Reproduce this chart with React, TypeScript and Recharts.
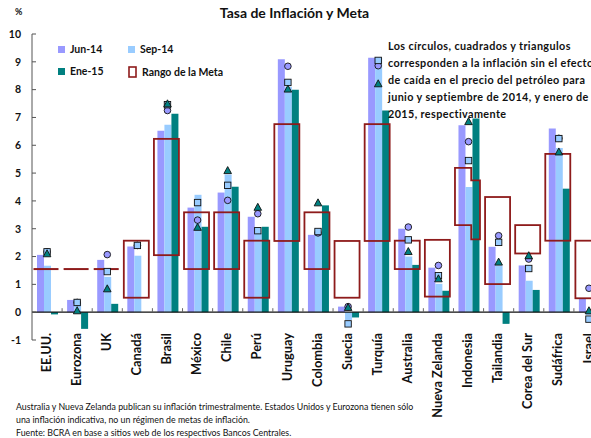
import React from 'react';
import { ComposedChart, Bar, Line, XAxis, YAxis, ReferenceLine } from 'recharts';

// values
const categories = [
  'EE.UU.', 'Eurozona', 'UK', 'Canadá', 'Brasil', 'México', 'Chile', 'Perú', 'Uruguay', 'Colombia',
  'Suecia', 'Turquía', 'Australia', 'Nueva Zelanda', 'Indonesia', 'Tailandia', 'Corea del Sur', 'Sudáfrica', 'Israel',
];
const jun14 = [2.06, 0.44, 1.88, 2.36, 6.52, 3.76, 4.3, 3.43, 9.09, 2.78, 0.2, 9.15, 3.0, 1.6, 6.72, 2.35, 1.68, 6.6, 0.48];
const sep14 = [1.67, 0.35, 1.27, 2.03, 6.74, 4.22, 4.95, 2.85, 8.1, 2.8, -0.28, 9.15, 2.0, 1.02, 4.5, 1.68, 1.13, 5.9, -0.1];
const ene15 = [-0.08, -0.6, 0.3, null, 7.13, 3.07, 4.51, 3.07, 8.0, 3.84, -0.19, 7.25, 1.7, 0.77, 6.96, -0.42, 0.8, 4.44, -0.2];

// sin efecto petróleo
const circJun = [2.17, 0.35, 2.07, 2.4, 7.25, 3.31, 4.02, 3.54, 8.84, 2.85, 0.2, 8.86, 3.06, 1.68, 6.13, 2.75, 1.91, 6.25, 0.86];
const sqSep = [2.17, 0.35, 1.46, 2.4, 7.46, 3.94, 4.56, 2.93, 8.26, 2.9, -0.42, 9.05, 2.6, 1.31, 5.45, 2.51, 1.57, 6.24, -0.25];
const triEne = [2.1, 0.05, 0.84, null, 7.49, 3.05, 5.09, 3.77, 8.02, 3.93, 0.17, 8.21, 2.18, 1.2, 6.85, 1.8, 2.03, 5.76, 0.05];

// rango de la meta
const metaLow = [1.55, 1.55, 1.55, 0.52, 2.05, 1.55, 1.55, 0.52, 2.56, 1.55, 0.52, 2.56, 1.55, 0.56, 3.13, 1.01, 2.11, 2.57, 0.5];
const metaHigh = [1.55, 1.55, 1.55, 2.57, 6.23, 3.59, 3.59, 2.57, 6.76, 3.59, 2.56, 6.76, 2.57, 2.6, 5.19, 4.14, 3.13, 5.69, 2.57];
// Indonesia cambió el rango para enero
const metaEneLow = [null, null, null, null, null, null, null, null, null, null, null, null, null, null, 2.62, null, null, null, null];
const metaEneHigh = [null, null, null, null, null, null, null, null, null, null, null, null, null, null, 4.74, null, null, null, null];

const yTicks = [-1, 0, 1, 2, 3, 4, 5, 6, 7, 8, 9, 10];

const JUN = '#9999FF';
const SEP = '#99CCFF';
const ENE = '#008080';
const META = '#8E1B1B';
const FONT = 'Lato, "Open Sans", sans-serif';

const W = 612;
const H = 438;
const margin = { top: 34, right: 8, left: 8, bottom: 0 };
const yAxisW = 24;
const xAxisH = 98;
const plotH = H - margin.top - margin.bottom - xAxisH;
const yZero = margin.top + (plotH * 10) / 11;
const band = (W - margin.left - margin.right - yAxisW) / categories.length;
const axisX = margin.left + yAxisW;

const data = categories.map((name, i) => ({
  name,
  jun14: jun14[i],
  sep14: sep14[i],
  ene15: ene15[i],
  circJun: circJun[i],
  sqSep: sqSep[i],
  triEne: triEne[i],
  meta: [metaLow[i], metaHigh[i]],
  metaEne: metaEneLow[i] != null ? [metaEneLow[i], metaEneHigh[i]] : null,
}));

const MetaShape = (props: any) => {
  const { x, y, width, height, payload } = props;
  const top = Math.min(y, y + height);
  const h = Math.abs(height);
  const left = x - 1.5;
  const right = x + width - 1.5;
  const [lo, hi] = payload.meta;
  if (hi - lo < 0.001) {
    return <line x1={left} x2={right} y1={top} y2={top} stroke={META} strokeWidth={2} />;
  }
  if (payload.metaEne) {
    const ppu = h / (hi - lo);
    const py = (v: number) => top + (hi - v) * ppu;
    const mid = left + (right - left) * 0.65;
    const [lo2, hi2] = payload.metaEne;
    const d = `M${left},${top}H${mid}V${py(hi2)}H${right}V${py(lo2)}H${mid}V${top + h}H${left}Z`;
    return <path d={d} fill="none" stroke={META} strokeWidth={1.8} />;
  }
  return <rect x={left} y={top} width={right - left} height={h} fill="none" stroke={META} strokeWidth={1.8} />;
};

const CircleDot = (props: any) => {
  const { cx, cy, value } = props;
  if (cx == null || cy == null || value == null) return null;
  return <circle cx={cx} cy={cy} r={3.3} fill={JUN} stroke="#111" strokeWidth={0.9} />;
};

const SquareDot = (props: any) => {
  const { cx, cy, value } = props;
  if (cx == null || cy == null || value == null) return null;
  return <rect x={cx - 3.2} y={cy - 3.2} width={6.4} height={6.4} fill={SEP} stroke="#111" strokeWidth={0.9} />;
};

const TriDot = (props: any) => {
  const { cx, cy, value } = props;
  if (cx == null || cy == null || value == null) return null;
  return (
    <path
      d={`M${cx},${cy - 4}L${cx + 3.8},${cy + 3}L${cx - 3.8},${cy + 3}Z`}
      fill={ENE}
      stroke="#111"
      strokeWidth={0.9}
    />
  );
};

const XTick = (props: any) => {
  const { x, y, payload, index } = props;
  return (
    <g>
      {index > 0 && (
        <line x1={x - band / 2} x2={x - band / 2} y1={yZero - 4} y2={yZero} stroke="#666" />
      )}
      <text
        transform={`translate(${x - 1},${y - 7}) rotate(-90)`}
        textAnchor="end"
        dy="0.36em"
        fontFamily={FONT}
        fontWeight={700}
        fontSize={12.8}
        fill="#111"
      >
        {payload.value}
      </text>
    </g>
  );
};

const YTick = (props: any) => {
  const { x, y, payload } = props;
  return (
    <g>
      <line x1={axisX} x2={axisX + 4} y1={y} y2={y} stroke="#555" />
      <text x={x} y={y} dy="0.36em" textAnchor="end" fontFamily={FONT} fontWeight={700} fontSize={10.5} fill="#111">
        {payload.value}
      </text>
    </g>
  );
};

const Swatch = ({ color }: { color: string }) => (
  <svg width={7} height={7} style={{ display: 'block' }}>
    <rect width={7} height={7} fill={color} />
  </svg>
);

const legendItem = (left: number, top: number, swatch: React.ReactNode, label: string) => (
  <div style={{ position: 'absolute', left, top, display: 'flex', alignItems: 'center', gap: 5 }}>
    {swatch}
    <span style={{ fontWeight: 700, fontSize: 10.5 }}>{label}</span>
  </div>
);

export default function App() {
  return (
    <div
      style={{
        position: 'absolute',
        left: 0,
        top: 0,
        width: 591,
        height: 438,
        overflow: 'hidden',
        background: '#fff',
        fontFamily: FONT,
        color: '#111',
      }}
    >
      <ComposedChart width={W} height={H} data={data} margin={margin} barCategoryGap="16.6%" barGap={0}>
        <XAxis
          dataKey="name"
          interval={0}
          axisLine={false}
          tickLine={false}
          tickSize={0}
          tickMargin={0}
          height={xAxisH}
          tick={<XTick />}
        />
        <XAxis xAxisId="meta" dataKey="name" hide />
        <YAxis
          domain={[-1, 10]}
          ticks={yTicks}
          width={yAxisW}
          axisLine={{ stroke: '#555' }}
          tickLine={false}
          tickSize={0}
          tickMargin={11}
          tick={<YTick />}
        />
        <Bar dataKey="jun14" fill={JUN} isAnimationActive={false} />
        <Bar dataKey="sep14" fill={SEP} isAnimationActive={false} />
        <Bar dataKey="ene15" fill={ENE} isAnimationActive={false} />
        <ReferenceLine y={0} stroke="#111" strokeWidth={1.2} />
        <Bar xAxisId="meta" dataKey="meta" barSize={25} shape={<MetaShape />} isAnimationActive={false} />
        <Line dataKey="circJun" stroke="none" dot={<CircleDot />} activeDot={false} isAnimationActive={false} />
        <Line dataKey="sqSep" stroke="none" dot={<SquareDot />} activeDot={false} isAnimationActive={false} />
        <Line dataKey="triEne" stroke="none" dot={<TriDot />} activeDot={false} isAnimationActive={false} />
      </ComposedChart>

      <div style={{ position: 'absolute', left: 15, top: 6, fontSize: 9, fontWeight: 700 }}>%</div>
      <div
        style={{ position: 'absolute', left: 0, top: 4, width: 589, textAlign: 'center', fontSize: 14, fontWeight: 700 }}
      >
        Tasa de Inflación y Meta
      </div>

      {legendItem(58, 43, <Swatch color={JUN} />, 'Jun-14')}
      {legendItem(128, 43, <Swatch color={SEP} />, 'Sep-14')}
      {legendItem(58, 65, <Swatch color={ENE} />, 'Ene-15')}
      {legendItem(
        128,
        66,
        <svg width={9} height={12} style={{ display: 'block' }}>
          <rect x={1} y={1} width={7} height={10} fill="none" stroke={META} strokeWidth={1.6} />
        </svg>,
        'Rango de la Meta',
      )}

      <div
        style={{
          position: 'absolute',
          left: 388,
          top: 37,
          fontSize: 10.8,
          letterSpacing: '0.4px',
          fontWeight: 700,
          lineHeight: '17px',
          whiteSpace: 'nowrap',
        }}
      >
        <div>Los círculos, cuadrados y triangulos</div>
        <div>corresponden a la inflación sin el efecto</div>
        <div>de caída en el precio del petróleo para</div>
        <div>junio y septiembre de 2014, y enero de</div>
        <div>2015, respectivamente</div>
      </div>

      <div
        style={{
          position: 'absolute',
          left: 16,
          top: 400,
          fontSize: 8.8,
          lineHeight: '13px',
          whiteSpace: 'nowrap',
        }}
      >
        <div>Australia y Nueva Zelanda publican su inflación trimestralmente. Estados Unidos y Eurozona tienen sólo</div>
        <div>una inflación indicativa, no un régimen de metas de inflación.</div>
        <div>Fuente: BCRA en base a sitios web de los respectivos Bancos Centrales.</div>
      </div>
    </div>
  );
}
